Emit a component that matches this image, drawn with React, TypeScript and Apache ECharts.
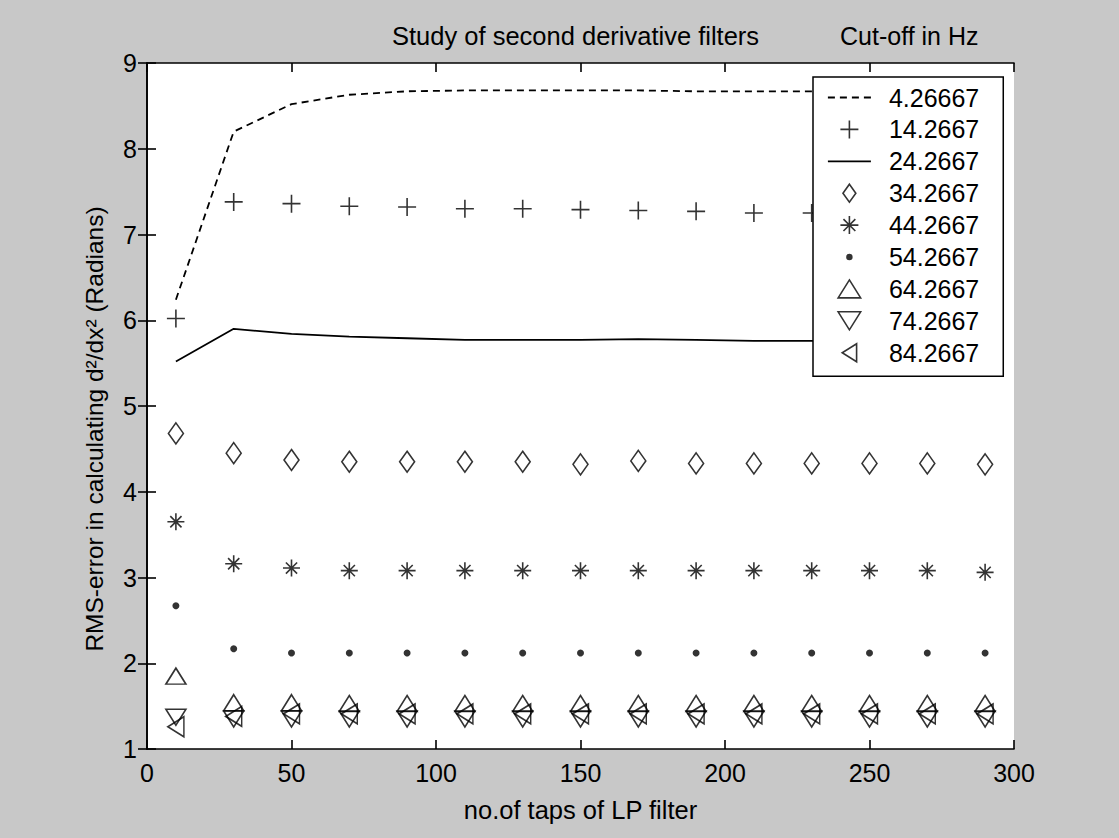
import React, { useEffect, useRef } from "react";
import * as echarts from "echarts";

const taps = [10, 30, 50, 70, 90, 110, 130, 150, 170, 190, 210, 230, 250, 270, 290];
const cutoffNames = ["4.26667", "14.2667", "24.2667", "34.2667", "44.2667", "54.2667", "64.2667", "74.2667", "84.2667"];

const s4 = [6.24, 8.2, 8.52, 8.63, 8.67, 8.68, 8.68, 8.68, 8.68, 8.67, 8.67, 8.67, 8.67, 8.67, 8.67];
const s14 = [6.02, 7.38, 7.36, 7.33, 7.32, 7.3, 7.3, 7.29, 7.28, 7.27, 7.25, 7.25, 7.24, 7.24, 7.24];
const s24 = [5.52, 5.9, 5.84, 5.81, 5.79, 5.77, 5.77, 5.77, 5.78, 5.77, 5.76, 5.76, 5.76, 5.76, 5.76];
const s34 = [4.68, 4.45, 4.37, 4.35, 4.35, 4.35, 4.35, 4.32, 4.36, 4.33, 4.33, 4.33, 4.33, 4.33, 4.32];
const s44 = [3.65, 3.16, 3.11, 3.08, 3.08, 3.08, 3.08, 3.08, 3.08, 3.08, 3.08, 3.08, 3.08, 3.08, 3.06];
const s54 = [2.67, 2.17, 2.12, 2.12, 2.12, 2.12, 2.12, 2.12, 2.12, 2.12, 2.12, 2.12, 2.12, 2.12, 2.12];
const s64 = [1.85, 1.54, 1.54, 1.53, 1.53, 1.53, 1.53, 1.53, 1.53, 1.53, 1.53, 1.53, 1.53, 1.53, 1.53];
const s74 = [1.37, 1.35, 1.35, 1.35, 1.35, 1.35, 1.35, 1.35, 1.35, 1.35, 1.35, 1.35, 1.35, 1.35, 1.35];
const s84 = [1.26, 1.38, 1.41, 1.41, 1.41, 1.41, 1.41, 1.41, 1.41, 1.41, 1.41, 1.41, 1.41, 1.41, 1.41];

const xTicks = [0, 50, 100, 150, 200, 250, 300];
const yTicks = [1, 2, 3, 4, 5, 6, 7, 8, 9];

const FONT = "Liberation Sans";

const pair = (ys: number[]) => taps.map((x, i) => [x, ys[i]]);

export default function App() {
  const ref = useRef<HTMLDivElement>(null);
  useEffect(() => {
    if (!ref.current) return;
    const chart = echarts.init(ref.current, null, { renderer: "svg" });
    const open = { color: "none", borderColor: "#000", borderWidth: 1.6 };
    const scatter = (name: string, ys: number[], symbol: string, size: any, style: any) => ({
      name,
      type: "scatter",
      data: pair(ys),
      symbol,
      symbolSize: size,
      itemStyle: style,
      emphasis: { disabled: true },
    });
    const noSymbol = { color: "transparent", borderColor: "transparent", borderWidth: 0, opacity: 0 };
    const smallDot = "path://M0,0M10,10M5,3.2A1.8,1.8,0,1,1,5,6.8A1.8,1.8,0,1,1,5,3.2Z";
    const legendData = cutoffNames.map((n, i) => {
      if (i === 0 || i === 2) return { name: n, itemStyle: noSymbol };
      if (i === 5) return { name: n, icon: smallDot };
      return { name: n };
    });
    chart.setOption({
      animation: false,
      backgroundColor: "#c8c8c8",
      textStyle: { fontFamily: FONT },
      title: [
        { text: "Study of second derivative filters", left: 392, top: 23, padding: 0, textStyle: { fontSize: 25.5, fontWeight: "normal", color: "#000", fontFamily: FONT } },
        { text: "Cut-off in Hz", left: 840, top: 23, padding: 0, textStyle: { fontSize: 25, fontWeight: "normal", color: "#000", fontFamily: FONT } },
      ],
      grid: { left: 147, right: 105, top: 63, bottom: 89, backgroundColor: "#fff", show: true, borderWidth: 0 },
      legend: {
        orient: "vertical",
        left: 813,
        top: 77,
        backgroundColor: "#fff",
        borderColor: "#000",
        borderWidth: 1.5,
        padding: [8, 24, 11, 14],
        itemWidth: 43,
        itemHeight: 18,
        itemGap: 6.9,
        data: legendData,
        selectedMode: false,
        itemStyle: { borderWidth: 1.6 },
        lineStyle: { width: 1.8 },
        textStyle: { fontSize: 25, color: "#000", fontFamily: FONT, padding: [0, 0, 0, 13] },
      },
      xAxis: [
        {
          type: "value",
          min: 0,
          max: 300,
          interval: 50,
          name: "no.of taps of LP filter",
          nameLocation: "middle",
          nameGap: 48,
          nameTextStyle: { fontSize: 25.5, color: "#000", fontFamily: FONT },
          axisLine: { lineStyle: { color: "#000", width: 1.6 } },
          axisTick: { inside: true, length: 9, lineStyle: { color: "#000", width: 1.6 } },
          axisLabel: { fontSize: 25, color: "#000", margin: 11, fontFamily: FONT, formatter: (v: number) => (xTicks.includes(v) ? String(v) : "") },
          splitLine: { show: false },
        },
        {
          type: "value",
          position: "top",
          min: 0,
          max: 300,
          interval: 50,
          axisLine: { lineStyle: { color: "#000", width: 1.6 } },
          axisTick: { inside: true, length: 9, lineStyle: { color: "#000", width: 1.6 } },
          axisLabel: { show: false },
          splitLine: { show: false },
        },
      ],
      yAxis: [
        {
          type: "value",
          min: 1,
          max: 9,
          interval: 1,
          name: "RMS-error in calculating d²/dx² (Radians)",
          nameLocation: "middle",
          nameGap: 40,
          nameTextStyle: { fontSize: 24.5, color: "#000", fontFamily: FONT, padding: [0, 46, 0, 0] },
          axisLine: { lineStyle: { color: "#000", width: 1.6 } },
          axisTick: { inside: true, length: 9, lineStyle: { color: "#000", width: 1.6 } },
          axisLabel: { fontSize: 25, color: "#000", margin: 10, fontFamily: FONT, formatter: (v: number) => (yTicks.includes(v) ? String(v) : "") },
          splitLine: { show: false },
        },
        {
          type: "value",
          position: "right",
          min: 1,
          max: 9,
          interval: 1,
          axisLine: { lineStyle: { color: "#000", width: 1.6 } },
          axisTick: { inside: true, length: 9, lineStyle: { color: "#000", width: 1.6 } },
          axisLabel: { show: false },
          splitLine: { show: false },
        },
      ],
      series: [
        { name: cutoffNames[0], type: "line", data: pair(s4), symbol: "none", lineStyle: { color: "#000", width: 1.8, type: [7, 5] }, itemStyle: { color: "#000" }, emphasis: { disabled: true } },
        scatter(cutoffNames[1], s14, "path://M5,0L5,10M0,5L10,5", 18, open),
        { name: cutoffNames[2], type: "line", data: pair(s24), symbol: "none", lineStyle: { color: "#000", width: 1.8 }, itemStyle: { color: "#000" }, emphasis: { disabled: true } },
        scatter(cutoffNames[3], s34, "path://M5,0L10,7L5,14L0,7Z", [15, 21], open),
        scatter(cutoffNames[4], s44, "path://M5,0L5,10M0,5L10,5M1.7,1.7L8.3,8.3M8.3,1.7L1.7,8.3", 17, open),
        scatter(cutoffNames[5], s54, "circle", 7, { color: "#000" }),
        scatter(cutoffNames[6], s64, "path://M5,0L10,8L0,8Z", [20, 16], open),
        scatter(cutoffNames[7], s74, "path://M0,0L10,0L5,8Z", [20, 16], open),
        scatter(cutoffNames[8], s84, "path://M8,0L8,10L0,5Z", [16, 20], open),
      ],
    });
    return () => chart.dispose();
  }, []);
  return <div ref={ref} style={{ position: "fixed", left: 0, top: 0, width: 1119, height: 838 }} />;
}
